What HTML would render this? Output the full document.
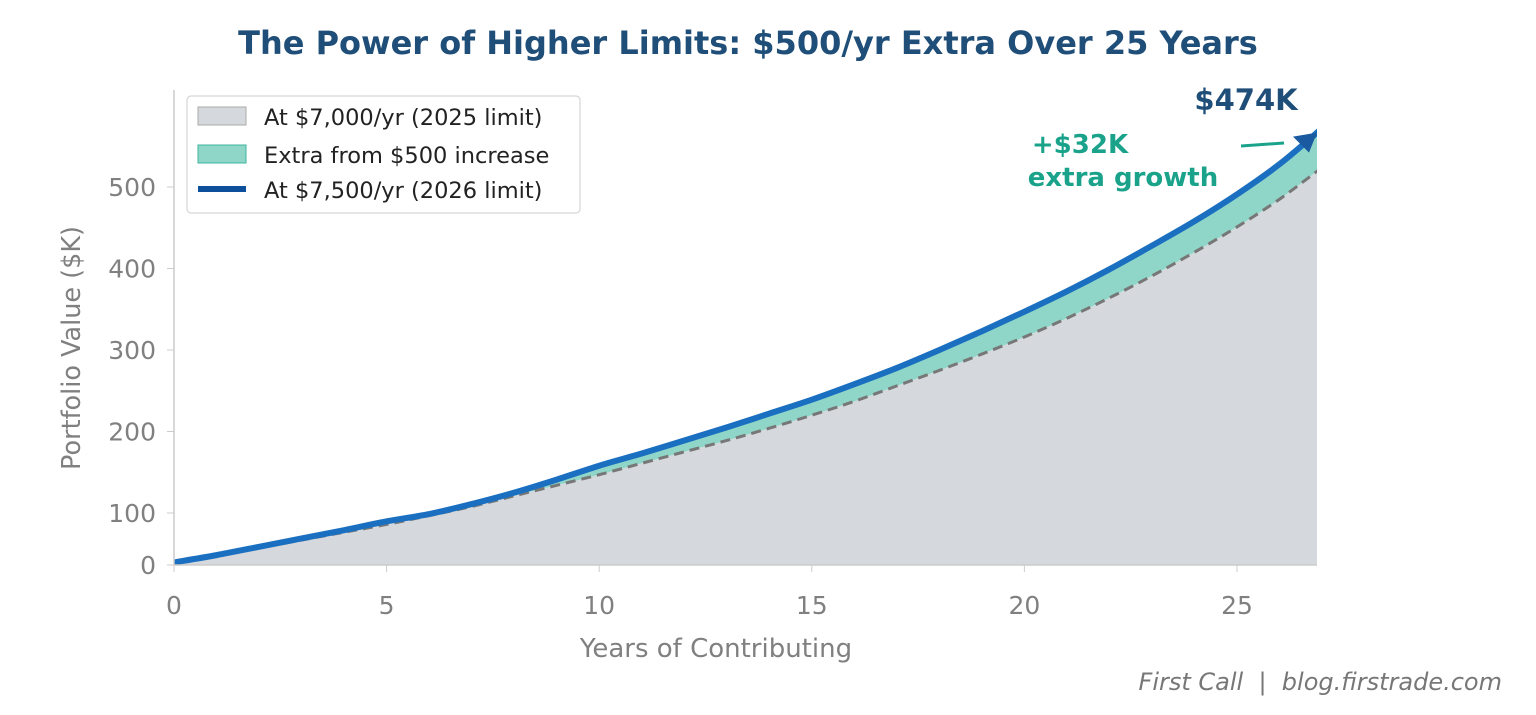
<!DOCTYPE html>
<html><head><meta charset="utf-8"><style>
body{margin:0;background:#fff;font-family:"DejaVu Sans","Liberation Sans",sans-serif}
svg text{font-family:"DejaVu Sans","Liberation Sans",sans-serif}
</style></head><body>
<svg id="chart" width="1536" height="711" xmlns="http://www.w3.org/2000/svg">
<rect width="1536" height="711" fill="#fff"/>
<text x="748" y="54" text-anchor="middle" font-size="32" font-weight="bold" fill="#1f4e79">The Power of Higher Limits: $500/yr Extra Over 25 Years</text>
<g id="plot"></g>
<g>
<rect x="187" y="96" width="393" height="117" rx="4" fill="#fff" stroke="#ccc"/>
<rect x="198" y="107" width="48" height="18" fill="#d5d8dc" stroke="#aaa"/>
<text x="264" y="125" font-size="22.5" fill="#222">At $7,000/yr (2025 limit)</text>
<rect x="198" y="145" width="48" height="18" fill="#8fd6c8" stroke="#3cb5a0"/>
<text x="264" y="163" font-size="22.5" fill="#222">Extra from $500 increase</text>
<rect x="198" y="186" width="48" height="6" fill="#0e4f9c"/>
<text x="264" y="198" font-size="22.5" fill="#222">At $7,500/yr (2026 limit)</text>
</g>
<text transform="translate(80,348) rotate(-90)" text-anchor="middle" font-size="25.5" fill="#808080">Portfolio Value ($K)</text>
<text x="716" y="657" text-anchor="middle" font-size="26" fill="#808080">Years of Contributing</text>
<text x="1246" y="110" text-anchor="middle" font-size="29" font-weight="bold" fill="#1f4e79">$474K</text>
<text x="1080" y="153" text-anchor="middle" font-size="26" font-weight="bold" fill="#1aa38a">+$32K</text>
<text x="1123" y="186" text-anchor="middle" font-size="26" font-weight="bold" fill="#1aa38a">extra growth</text>
<line x1="1241" y1="146" x2="1284" y2="143" stroke="#1aa38a" stroke-width="3"/>
<text x="1502" y="690" text-anchor="end" font-size="24" font-style="italic" fill="#777" xml:space="preserve">First Call  |  blog.firstrade.com</text>
</svg>
<script>
const years=[0,1,2,3,4,5,6,7,8,9,10,11,12,13,14,15,16,17,18,19,20,21,22,23,24,25,26,27];
const base=[4,18,33,48,63,78,95,108,121,134,147,161,175,189,204,220,237,256,275,295,316,339,364,391,420,451,485,524];
const higher=[5,19,35,51,67,84,98,111,125,141,158,173,189,205,222,239,258,278,300,323,347,372,399,428,458,491,528,572];
const xTicks=[0,5,10,15,20,25];
const yTicks=[0,100,200,300,400,500];
const NS="http://www.w3.org/2000/svg";
const X0=174,XR=1317;
function xs(v){return 174+v*(1237-174)/25;}
function ys(v){return v<=100?565-v*0.52:513-(v-100)*0.815;}
const g=document.getElementById('plot');
function mk(t,a){const e=document.createElementNS(NS,t);for(const k in a)e.setAttribute(k,a[k]);g.appendChild(e);return e;}
const cp=mk('clipPath',{id:'cp'});const cr=document.createElementNS(NS,'rect');
cr.setAttribute('x',X0);cr.setAttribute('y',80);cr.setAttribute('width',XR-X0);cr.setAttribute('height',500);cp.appendChild(cr);
function curve(p,pre){let d=pre+p[0];
for(let i=0;i<p.length-1;i++){const p0=p[i-1]||p[i],p1=p[i],p2=p[i+1],p3=p[i+2]||p2;
d+='C'+(p1[0]+(p2[0]-p0[0])/6)+','+(p1[1]+(p2[1]-p0[1])/6)+' '+(p2[0]-(p3[0]-p1[0])/6)+','+(p2[1]-(p3[1]-p1[1])/6)+' '+p2;}
return d;}
function pts(a){return years.map((y,i)=>[xs(y),ys(a[i])]);}
function smooth(a){return curve(pts(a),'M');}
function smoothRev(a){return curve(pts(a).reverse(),'L');}
const fb=mk('path',{d:smooth(base)+'L'+xs(27)+','+ys(0)+'L'+xs(0)+','+ys(0)+'Z',fill:'#d5d8dc','clip-path':'url(#cp)'});


const fe=mk('path',{d:smooth(higher)+smoothRev(base)+'Z',fill:'#8fd6c8','clip-path':'url(#cp)'});


const lb=mk('path',{d:smooth(base),fill:'none',stroke:'#777','stroke-width':3,'stroke-dasharray':'10,6','clip-path':'url(#cp)'});


const lh=mk('path',{d:smooth(higher),fill:'none',stroke:'#1a6fc0','stroke-width':6,'clip-path':'url(#cp)'});


const ex=XR,ey=ys(higher[26]+(higher[27]-higher[26])*((XR-xs(26))/(xs(27)-xs(26))));
const ah=mk('polygon',{points:`${ex},${ey} ${ex-24},${ey+4} ${ex-8},${ey+20}`,fill:'#1a5aa0'});


const ax=mk('line',{x1:X0,y1:90,x2:X0,y2:565,stroke:'#ccc','stroke-width':1.5});


const bx=mk('line',{x1:X0,y1:565,x2:XR,y2:565,stroke:'#ccc','stroke-width':1.5});


xTicks.forEach(t=>{mk('line',{x1:xs(t),y1:565,x2:xs(t),y2:572,stroke:'#ccc'});
const tx=mk('text',{x:xs(t),y:614,'text-anchor':'middle','font-size':25,fill:'#808080'});tx.textContent=t;

});
yTicks.forEach(t=>{mk('line',{x1:X0-7,y1:ys(t),x2:X0,y2:ys(t),stroke:'#ccc'});
const tx=mk('text',{x:156,y:ys(t)+9,'text-anchor':'end','font-size':25,fill:'#808080'});tx.textContent=t;

});
</script>
</body></html>
